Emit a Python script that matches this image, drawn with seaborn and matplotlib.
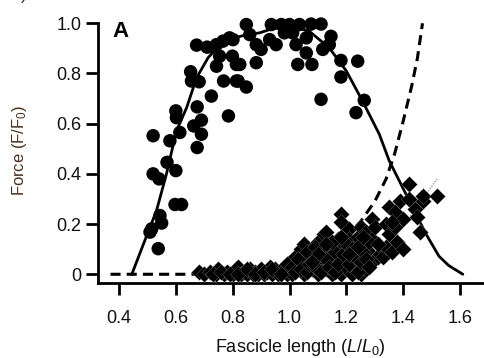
import matplotlib
matplotlib.use("Agg")
import matplotlib.pyplot as plt
import seaborn as sns
import pandas as pd

# ---------------- data ----------------
circle_L = [0.509, 0.515, 0.538, 0.544, 0.550, 0.597, 0.620, 0.520, 0.541, 0.569,
            0.600, 0.520, 0.579, 0.614, 0.690, 0.675, 0.600, 0.602, 0.652, 0.655,
            0.682, 0.675, 0.663, 0.690, 0.725, 0.673, 0.710, 0.743, 0.754, 0.743,
            0.766, 0.789, 0.799, 0.768, 0.813, 0.813, 0.785, 0.848, 0.801, 0.860,
            0.883, 0.900, 0.883, 0.825, 0.819, 0.848, 0.936, 0.971, 1.000, 1.035,
            1.076, 1.111, 0.930, 0.953, 0.982, 1.011, 1.023, 1.059, 1.059, 1.029,
            1.079, 1.117, 1.146, 1.140, 1.181, 1.240, 1.181, 1.111, 1.263, 1.234]
circle_F = [0.168, 0.181, 0.102, 0.234, 0.204, 0.278, 0.278, 0.400, 0.380, 0.446,
            0.413, 0.552, 0.532, 0.565, 0.558, 0.505, 0.651, 0.624, 0.807, 0.770,
            0.767, 0.667, 0.591, 0.614, 0.710, 0.913, 0.905, 0.915, 0.869, 0.829,
            0.929, 0.942, 0.869, 0.770, 0.770, 0.836, 0.631, 0.995, 0.935, 0.955,
            0.915, 0.896, 0.843, 0.836, 0.770, 0.746, 0.995, 0.995, 0.995, 0.995,
            0.997, 0.997, 0.935, 0.915, 0.962, 0.962, 0.915, 0.942, 0.882, 0.836,
            0.836, 0.896, 0.948, 0.915, 0.852, 0.849, 0.786, 0.697, 0.693, 0.644]

diamond_L = [0.68, 0.70, 0.72, 0.74, 0.75, 0.77, 0.78, 0.80, 0.81, 0.82,
             0.83, 0.84, 0.85, 0.86, 0.87, 0.88, 0.89, 0.90, 0.91, 0.92,
             0.93, 0.94, 0.95, 0.96, 0.97, 0.98, 0.99, 1.00, 1.00, 1.01,
             1.02, 1.03, 1.04, 1.05, 1.05, 1.06, 1.07, 1.08, 1.08, 1.09,
             1.10, 1.10, 1.11, 1.12, 1.12, 1.13, 1.13, 1.14, 1.15, 1.15,
             1.16, 1.17, 1.17, 1.18, 1.18, 1.18, 1.19, 1.19, 1.20, 1.20,
             1.21, 1.21, 1.22, 1.22, 1.23, 1.23, 1.24, 1.24, 1.25, 1.25,
             1.26, 1.26, 1.27, 1.27, 1.28, 1.29, 1.29, 1.30, 1.30, 1.31,
             1.32, 1.33, 1.34, 1.34, 1.35, 1.35, 1.36, 1.37, 1.37, 1.38,
             1.39, 1.40, 1.40, 1.42, 1.44, 1.46, 1.47, 1.47, 1.52,
             0.73, 0.76, 0.79, 0.82, 0.85, 0.88, 0.91, 0.94, 0.97, 0.99,
             1.01, 1.02, 1.03, 1.04, 1.06, 1.06, 1.07, 1.09, 1.09, 1.11,
             1.11, 1.13, 1.14, 1.14, 1.16, 1.16, 1.17, 1.19, 1.20, 1.21,
             1.22, 1.23, 1.24, 1.25, 1.26, 1.27, 1.28, 1.15, 1.18, 1.21,
             1.24, 1.26, 1.10, 1.13, 1.08, 1.28, 1.31, 1.36, 1.42, 1.45]
diamond_F = [0.01, 0.00, 0.01, 0.00, 0.02, 0.00, 0.01, 0.00, 0.02, 0.03,
             0.00, 0.01, 0.00, 0.02, 0.00, 0.01, 0.00, 0.02, 0.00, 0.01,
             0.03, 0.00, 0.02, 0.00, 0.01, 0.03, 0.00, 0.02, 0.05, 0.00,
             0.07, 0.03, 0.10, 0.00, 0.12, 0.05, 0.08, 0.02, 0.10, 0.06,
             0.00, 0.13, 0.04, 0.09, 0.16, 0.02, 0.17, 0.07, 0.11, 0.00,
             0.04, 0.14, 0.08, 0.00, 0.24, 0.21, 0.05, 0.12, 0.02, 0.09,
             0.18, 0.14, 0.00, 0.06, 0.11, 0.03, 0.15, 0.08, 0.00, 0.19,
             0.05, 0.12, 0.02, 0.17, 0.09, 0.22, 0.14, 0.06, 0.19, 0.07,
             0.08, 0.07, 0.20, 0.11, 0.27, 0.16, 0.09, 0.25, 0.19, 0.13,
             0.29, 0.10, 0.22, 0.36, 0.26, 0.17, 0.29, 0.31, 0.31,
             0.00, 0.01, 0.00, 0.00, 0.02, 0.00, 0.01, 0.02, 0.00, 0.04,
             0.03, 0.01, 0.06, 0.02, 0.09, 0.01, 0.04, 0.03, 0.11, 0.07,
             0.01, 0.06, 0.03, 0.12, 0.09, 0.01, 0.04, 0.08, 0.12, 0.04,
             0.10, 0.07, 0.01, 0.05, 0.09, 0.06, 0.13, 0.13, 0.15, 0.08,
             0.11, 0.15, 0.08, 0.12, 0.05, 0.03, 0.12, 0.21, 0.30, 0.23]

active_L = [0.445, 0.491, 0.532, 0.567, 0.602, 0.638, 0.673, 0.713, 0.754, 0.800,
            0.850, 0.895, 0.930, 0.970, 1.020, 1.070, 1.140, 1.200, 1.257, 1.316,
            1.351, 1.398, 1.433, 1.480, 1.526, 1.560, 1.610]
active_F = [0.000, 0.135, 0.254, 0.400, 0.571, 0.664, 0.783, 0.862, 0.915, 0.940,
            0.955, 0.962, 0.975, 0.985, 0.985, 0.968, 0.902, 0.810, 0.690, 0.558,
            0.452, 0.346, 0.267, 0.161, 0.072, 0.035, 0.000]

passive_L = [0.37, 0.80, 0.90, 1.00, 1.10, 1.20, 1.25, 1.30, 1.34, 1.37,
             1.40, 1.43, 1.45, 1.468]
passive_F = [0.000, 0.000, 0.005, 0.025, 0.070, 0.150, 0.210, 0.290, 0.380, 0.480,
             0.610, 0.750, 0.860, 1.000]

fit_L = [1.38, 1.52]
fit_F = [0.16, 0.38]

x_ticks = [0.4, 0.6, 0.8, 1.0, 1.2, 1.4, 1.6]
x_ticklabels = ["0.4", "0.6", "0.8", "1.0", "1.2", "1.4", "1.6"]
y_ticks = [0.0, 0.2, 0.4, 0.6, 0.8, 1.0]
y_ticklabels = ["0", "0.2", "0.4", "0.6", "0.8", "1.0"]

# ---------------- style ----------------
sns.set_theme(style="ticks")
plt.rcParams["font.family"] = ["Liberation Sans", "DejaVu Sans"]
plt.rcParams["mathtext.fontset"] = "custom"
plt.rcParams["mathtext.rm"] = "Liberation Sans"
plt.rcParams["mathtext.it"] = "Liberation Sans:italic"
plt.rcParams["mathtext.bf"] = "Liberation Sans:bold"

fig = plt.figure(figsize=(4.85, 3.58), dpi=100)
ax = fig.add_axes([98 / 485, 1 - 283.3 / 358, (485 - 98) / 485, (283.3 - 23.3) / 358])

circles = pd.DataFrame({"L": circle_L, "F": circle_F})
diamonds = pd.DataFrame({"L": diamond_L, "F": diamond_F})
active = pd.DataFrame({"L": active_L, "F": active_F})
passive = pd.DataFrame({"L": passive_L, "F": passive_F})
fit = pd.DataFrame({"L": fit_L, "F": fit_F})

sns.lineplot(data=passive, x="L", y="F", sort=False, estimator=None, color="black",
             linewidth=2.2, linestyle=(0, (3.3, 2.0)), ax=ax, zorder=2)
sns.lineplot(data=fit, x="L", y="F", sort=False, estimator=None, color="#9a9a9a",
             linewidth=1.0, linestyle=(0, (1, 1)), ax=ax, zorder=2)
sns.lineplot(data=active, x="L", y="F", sort=False, estimator=None, color="black",
             linewidth=2.0, ax=ax, zorder=3)
sns.scatterplot(data=circles, x="L", y="F", marker="o", s=94, color="black",
                edgecolor="none", linewidth=0, ax=ax, zorder=4, clip_on=False)
sns.scatterplot(data=diamonds, x="L", y="F", marker="D", s=68, color="black",
                edgecolor="white", linewidth=0.12, ax=ax, zorder=5, clip_on=False)

ax.set_xlim(0.326, 1.688)
ax.set_ylim(-0.036, 1.0)
ax.set_xticks(x_ticks)
ax.set_xticklabels(x_ticklabels)
ax.set_yticks(y_ticks)
ax.set_yticklabels(y_ticklabels)

for side in ("top", "right"):
    ax.spines[side].set_visible(False)
for side in ("left", "bottom"):
    ax.spines[side].set_linewidth(2.0)
    ax.spines[side].set_color("black")

ax.tick_params(axis="both", direction="out", length=8.5, width=2.0, color="black",
               labelsize=13, labelcolor="#111111")
ax.tick_params(axis="x", pad=11)
ax.tick_params(axis="y", pad=3.5)

ax.set_xlabel(r"Fascicle length ($\mathit{L}$/$\mathit{L}_{\mathrm{0}}$)", fontsize=13,
              color="#111111")
ax.xaxis.set_label_coords(0.522, -0.207)
ax.xaxis.label.set_va("top")
ax.set_ylabel(r"Force (F/F$_{\mathrm{0}}$)", fontsize=12, color="#4a3020")
ax.yaxis.set_label_coords(-0.178, 0.513)

fig.text(112 / 485, 1 - 37.3 / 358, "A", fontsize=16, fontweight="bold",
         ha="left", va="baseline", color="black")
fig.text(24 / 485, 1 + 1.0 / 358, ")", fontsize=13, ha="center", va="baseline",
         color="#333333")

fig.savefig("out.png", dpi=100)
